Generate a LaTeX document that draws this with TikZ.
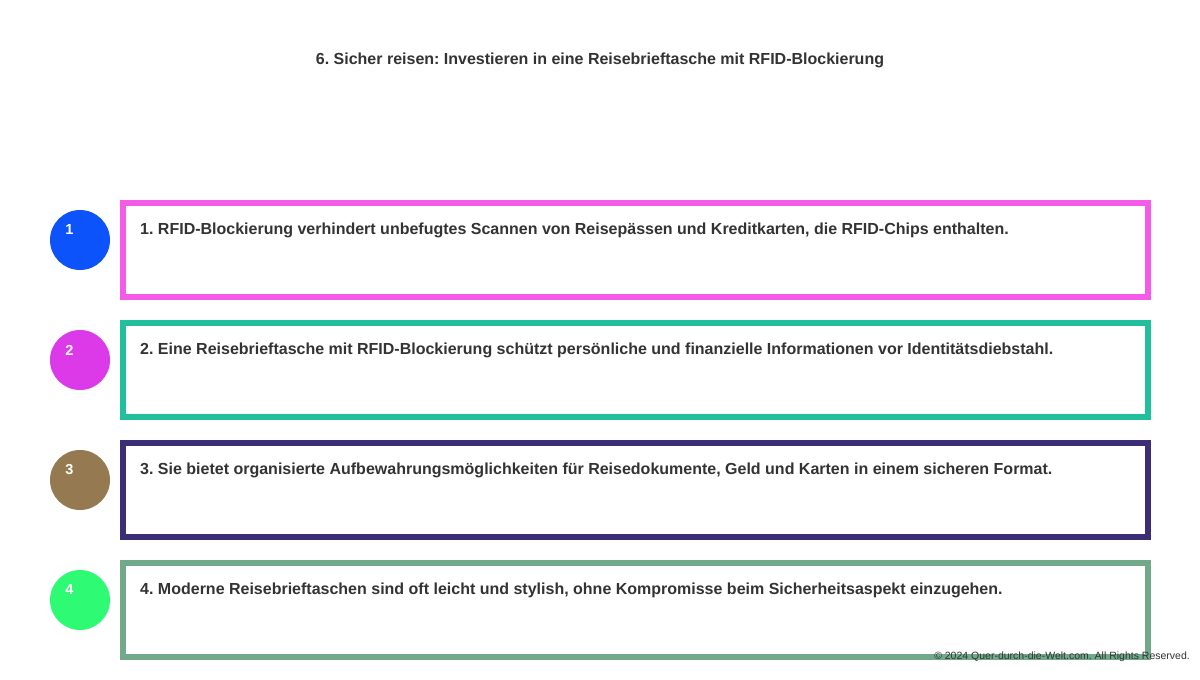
\documentclass[tikz,border=0pt]{standalone}
\usepackage{fontspec}
\setmainfont{Liberation Sans}
\frenchspacing
\definecolor{txt}{HTML}{333333}
\definecolor{bA}{HTML}{F45BE8}
\definecolor{bB}{HTML}{22BF9C}
\definecolor{bC}{HTML}{3B2E74}
\definecolor{bD}{HTML}{72A98A}
\definecolor{cA}{HTML}{0C53FB}
\definecolor{cB}{HTML}{DC3AE8}
\definecolor{cC}{HTML}{957A51}
\definecolor{cD}{HTML}{2EFA73}
\begin{document}
\begin{tikzpicture}[x=1pt,y=-1pt,
  itembox/.style={draw=#1,line width=6pt,minimum width=1025pt,minimum height=94pt,inner sep=0pt,fill=white},
  numcirc/.style={circle,fill=#1,minimum size=60pt,inner sep=0pt},
  numtxt/.style={text=white,font=\fontsize{14.5}{16}\selectfont\bfseries,inner sep=0pt},
  itemtxt/.style={anchor=west,text=txt,font=\fontsize{16}{19}\selectfont\bfseries,inner sep=0pt}]
\useasboundingbox (0,0) rectangle (1200,680);
\fill[white] (0,0) rectangle (1200,680);
\node[text=txt,font=\fontsize{16}{19}\selectfont\bfseries,inner sep=0pt] (title) at (600,60.5) {6. Sicher reisen: Investieren in eine Reisebrieftasche mit RFID-Blockierung};
% items
\node[itembox=bA] (b1) at (635.5,250) {};
\node[itembox=bB] (b2) at (635.5,370) {};
\node[itembox=bC] (b3) at (635.5,490) {};
\node[itembox=bD] (b4) at (635.5,610) {};
\node[numcirc=cA] (c1) at (80,240) {};
\node[numcirc=cB] (c2) at (80,360) {};
\node[numcirc=cC] (c3) at (80,480) {};
\node[numcirc=cD] (c4) at (80,600) {};
\node[numtxt] (n1) at (69.5,230) {1};
\node[numtxt] (n2) at (69.5,350) {2};
\node[numtxt] (n3) at (69.5,470) {3};
\node[numtxt] (n4) at (69.5,590) {4};
\node[itemtxt] (t1) at (140,230.5) {1. RFID-Blockierung verhindert unbefugtes Scannen von Reisepässen und Kreditkarten, die RFID-Chips enthalten.};
\node[itemtxt] (t2) at (140,350.5) {2. Eine Reisebrieftasche mit RFID-Blockierung schützt persönliche und finanzielle Informationen vor Identitätsdiebstahl.};
\node[itemtxt] (t3) at (140,470.5) {3. Sie bietet organisierte Aufbewahrungsmöglichkeiten für Reisedokumente, Geld und Karten in einem sicheren Format.};
\node[itemtxt] (t4) at (140,590.5) {4. Moderne Reisebrieftaschen sind oft leicht und stylish, ohne Kompromisse beim Sicherheitsaspekt einzugehen.};
\node[anchor=east,text=txt,font=\fontsize{10.5}{12}\selectfont,inner sep=0pt] (copy) at (1190,656.5) {© 2024 Quer-durch-die-Welt.com. All Rights Reserved.};
\end{tikzpicture}
\end{document}
